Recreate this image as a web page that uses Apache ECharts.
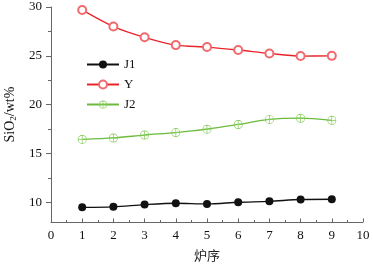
<!DOCTYPE html>
<html>
<head>
<meta charset="utf-8">
<script src="https://cdn.jsdelivr.net/npm/echarts@6/dist/echarts.min.js"></script>
<style>
html, body { margin: 0; padding: 0; background: #fff; }
#chart { width: 373px; height: 265px; }
</style>
</head>
<body>
<div id="chart"></div>
<script>
// 炉序
const furnace = [1, 2, 3, 4, 5, 6, 7, 8, 9];
const j1 = [9.5, 9.55, 9.78, 9.92, 9.85, 10.02, 10.12, 10.3, 10.33];
const yy = [29.7, 28.0, 26.9, 26.1, 25.9, 25.6, 25.25, 24.98, 25.0];
const j2 = [16.45, 16.6, 16.9, 17.15, 17.5, 17.98, 18.5, 18.62, 18.4];
const yLabels = [10, 15, 20, 25, 30];
const yMinor = [12.5, 17.5, 22.5, 27.5];

const font = 'Liberation Serif';
// circle with a cross (⊕)
const crossCircle = 'path://M0,-10A10,10,0,1,1,0,10A10,10,0,1,1,0,-10Z' +
	'M0,-8.4A8.4,8.4,0,1,0,0,8.4A8.4,8.4,0,1,0,0,-8.4Z' +
	'M-0.8,-8.4L0.8,-8.4L0.8,8.4L-0.8,8.4Z' +
	'M-8.4,-0.8L8.4,-0.8L8.4,0.8L-8.4,0.8Z';

function pairs(vals) {
	return furnace.map((x, i) => [x, vals[i]]);
}

const chart = echarts.init(document.getElementById('chart'));
chart.setOption({
	animation: false,
	grid: { left: 51, right: 10, top: 7, bottom: 43, containLabel: false, outerBoundsMode: 'none' },
	legend: {
		orient: 'vertical',
		left: 81,
		top: 53,
		itemWidth: 32,
		itemHeight: 10,
		itemGap: 7,
		textStyle: { fontFamily: font, fontSize: 13, color: '#111' },
		data: ['J1', 'Y', 'J2'],
	},
	xAxis: {
		type: 'value',
		min: 0,
		max: 10,
		interval: 1,
		name: '炉序',
		nameLocation: 'middle',
		nameGap: 27,
		nameTextStyle: { fontFamily: 'Noto Sans CJK SC', fontSize: 13, color: '#222' },
		axisLine: { lineStyle: { color: '#666', width: 1 } },
		axisTick: { inside: true, length: 3.5, lineStyle: { color: '#666' } },
		minorTick: { show: true, splitNumber: 2, length: 2, lineStyle: { color: '#666' } },
		axisLabel: { fontFamily: font, fontSize: 13, color: '#111', margin: 7 },
		splitLine: { show: false },
	},
	yAxis: [
		{
			type: 'value',
			min: 8,
			max: 30,
			name: '{a|SiO}{b|2}{a|/wt%}',
			nameLocation: 'middle',
			nameGap: 32,
			nameRotate: 90,
			nameTextStyle: {
				rich: {
					a: { fontFamily: font, fontSize: 14, color: '#111' },
					b: { fontFamily: font, fontSize: 9, color: '#111', verticalAlign: 'bottom', padding: [7, 0, 0, 0] },
				},
			},
			axisLine: { show: true, lineStyle: { color: '#666', width: 1 } },
			axisTick: { show: true, length: 5, customValues: yLabels, lineStyle: { color: '#666' } },
			axisLabel: { fontFamily: font, fontSize: 13, color: '#111', margin: 9, customValues: yLabels },
			splitLine: { show: false },
		},
		{
			type: 'value',
			position: 'left',
			min: 8,
			max: 30,
			axisLine: { show: false },
			axisTick: { show: true, length: 3, customValues: yMinor, lineStyle: { color: '#666' } },
			axisLabel: { show: false },
			splitLine: { show: false },
		},
	],
	series: [
		{
			name: 'J1',
			type: 'line',
			smooth: 0.3,
			data: pairs(j1),
			symbol: 'circle',
			symbolSize: 8,
			lineStyle: { color: '#111', width: 1.3 },
			itemStyle: { color: '#111' },
		},
		{
			name: 'Y',
			type: 'line',
			smooth: 0.3,
			data: pairs(yy),
			symbol: 'emptyCircle',
			symbolSize: 8,
			lineStyle: { color: '#e8242a', width: 1.3 },
			itemStyle: { color: '#f06a6e', borderColor: '#f06a6e', borderWidth: 1 },
		},
		{
			name: 'J2',
			type: 'line',
			smooth: 0.3,
			data: pairs(j2),
			symbol: crossCircle,
			symbolSize: 9,
			lineStyle: { color: '#6cbb3c', width: 1.3 },
			itemStyle: { color: '#86cc5a' },
		},
	],
});
</script>
</body>
</html>
